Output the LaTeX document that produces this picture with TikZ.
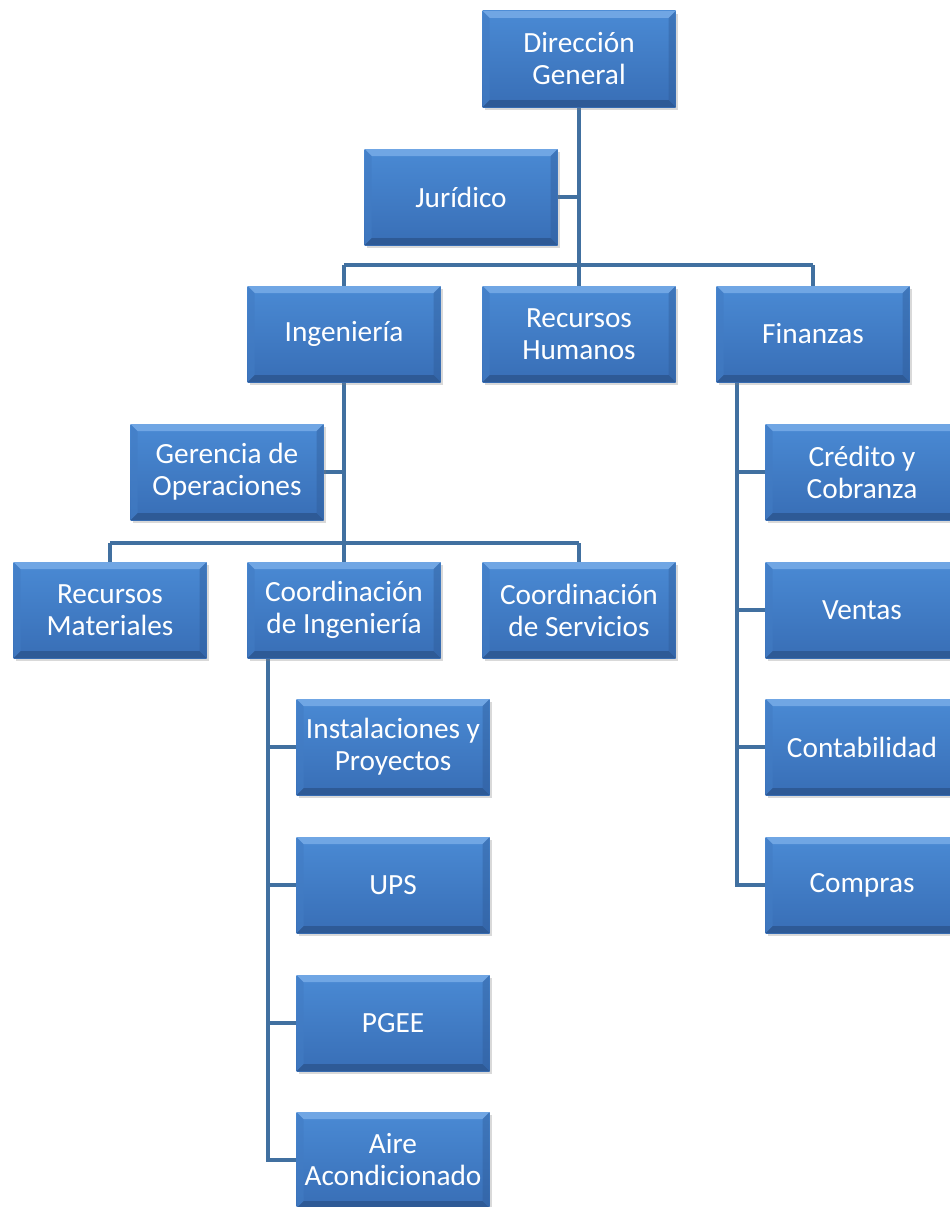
\documentclass[tikz,border=0pt]{standalone}
\usepackage{fontspec}
\setmainfont{Carlito}
\usetikzlibrary{shadows,backgrounds}
\definecolor{boxtop}{RGB}{74,138,212}
\definecolor{boxbot}{RGB}{56,110,182}
\definecolor{bevlight}{RGB}{112,166,228}
\definecolor{bevdark}{RGB}{46,90,150}
\definecolor{bevside}{RGB}{66,124,196}
\definecolor{linkc}{RGB}{65,112,160}
\tikzset{
  org/.style={minimum width=193pt, minimum height=96pt, inner sep=0pt, text=white,
    font=\fontsize{29.3}{32}\selectfont, align=center,
    top color=boxtop, bottom color=boxbot,
    drop shadow={shadow xshift=2pt, shadow yshift=-3pt, opacity=0.3},
    path picture={
      \fill[bevlight] (path picture bounding box.north west) -- (path picture bounding box.north east)
        -- ([xshift=-7pt,yshift=-7pt]path picture bounding box.north east)
        -- ([xshift=7pt,yshift=-7pt]path picture bounding box.north west) -- cycle;
      \fill[bevdark] (path picture bounding box.south west) -- (path picture bounding box.south east)
        -- ([xshift=-7pt,yshift=7pt]path picture bounding box.south east)
        -- ([xshift=7pt,yshift=7pt]path picture bounding box.south west) -- cycle;
      \fill[bevside,opacity=0.6] (path picture bounding box.north west) -- ([xshift=7pt,yshift=-7pt]path picture bounding box.north west)
        -- ([xshift=7pt,yshift=7pt]path picture bounding box.south west) -- (path picture bounding box.south west) -- cycle;
      \fill[bevdark,opacity=0.4] (path picture bounding box.north east) -- ([xshift=-7pt,yshift=-7pt]path picture bounding box.north east)
        -- ([xshift=-7pt,yshift=7pt]path picture bounding box.south east) -- (path picture bounding box.south east) -- cycle;
    }},
  link/.style={draw=linkc, line width=4pt}
}
\begin{document}
\begin{tikzpicture}[x=1pt,y=-1pt]
\useasboundingbox (0,0) rectangle (950,1207);
\coordinate (bar1L) at (344,265);
\coordinate (bar1M) at (579,265);
\coordinate (bar1R) at (813,265);
\coordinate (bar2L) at (110,543);
\coordinate (bar2M) at (344,543);
\coordinate (bar2R) at (579,543);
\coordinate (jurj) at (579,197);
\coordinate (gerj) at (344,472);

\node[org] (dg) at (579,59) {Dirección\\General};
\node[org] (jur) at (461,197) {Jurídico};
\node[org] (ing) at (344,334) {Ingeniería};
\node[org] (rh) at (579,334) {Recursos\\Humanos};
\node[org] (fin) at (813,334) {Finanzas};
\node[org] (ger) at (227,472) {Gerencia de\\Operaciones};
\node[org] (rm) at (110,610) {Recursos\\Materiales};
\node[org] (ci) at (344,610) {Coordinación\\de Ingeniería};
\node[org] (cs) at (579,610) {Coordinación\\de Servicios};
\node[org] (ip) at (393,747) {Instalaciones y\\Proyectos};
\node[org] (ups) at (393,885) {UPS};
\node[org] (pgee) at (393,1023) {PGEE};
\node[org] (aire) at (393,1160) {Aire\\Acondicionado};
\node[org] (cc) at (862,472) {Crédito y\\Cobranza};
\node[org] (ven) at (862,610) {Ventas};
\node[org] (con) at (862,747) {Contabilidad};
\node[org] (com) at (862,885) {Compras};

\begin{scope}[on background layer]
\draw[link] (dg.south) -- (bar1M);
\draw[link] (jur.east) -- (jurj);
\draw[link] (bar1L) -- (bar1R);
\draw[link] (bar1L) -- (ing.north);
\draw[link] (bar1M) -- (rh.north);
\draw[link] (bar1R) -- (fin.north);
\draw[link] (ing.south) -- (bar2M);
\draw[link] (ger.east) -- (gerj);
\draw[link] (bar2L) -- (bar2R);
\draw[link] (bar2L) -- (rm.north);
\draw[link] (bar2M) -- (ci.north);
\draw[link] (bar2R) -- (cs.north);
\draw[link] ([xshift=-76pt]ci.south) |- (aire.west);
\draw[link] ([xshift=-76pt]ci.south |- ip.west) -- (ip.west);
\draw[link] ([xshift=-76pt]ci.south |- ups.west) -- (ups.west);
\draw[link] ([xshift=-76pt]ci.south |- pgee.west) -- (pgee.west);
\draw[link] ([xshift=-76pt]fin.south) |- (com.west);
\draw[link] ([xshift=-76pt]fin.south |- cc.west) -- (cc.west);
\draw[link] ([xshift=-76pt]fin.south |- ven.west) -- (ven.west);
\draw[link] ([xshift=-76pt]fin.south |- con.west) -- (con.west);
\end{scope}
\end{tikzpicture}
\end{document}
